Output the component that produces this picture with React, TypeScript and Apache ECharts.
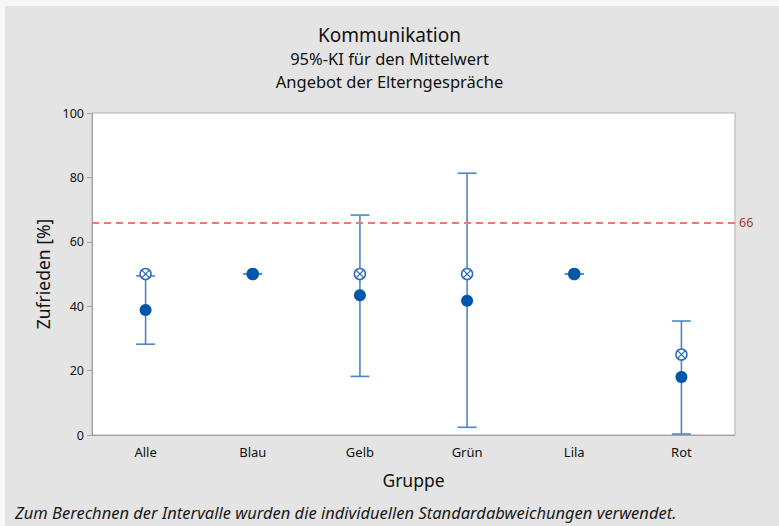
import React, { useEffect, useRef } from "react";
import * as echarts from "echarts";

const categories = ["Alle", "Blau", "Gelb", "Grün", "Lila", "Rot"];
const means = [38.8, 50, 43.4, 41.7, 50, 18];
const medians = [50, 50, 50, 50, 50, 25];
const lowerCI = [28.2, 50, 18.2, 2.4, 50, 0.3];
const upperCI = [49.4, 50, 68.3, 81.3, 50, 35.4];
const referenceValue = 66;
const yTicks = { min: 0, max: 100, interval: 20 };

const FONT = "'Noto Sans', 'Open Sans', sans-serif";
const WHISKER = "#4f86c6";
const MEAN = "#0056a8";
const MEDIAN = "#2f6cb8";

export default function App() {
  const ref = useRef<HTMLDivElement>(null);
  useEffect(() => {
    if (!ref.current) return;
    const chart = echarts.init(ref.current, null, { renderer: "svg" });
    const errData = categories.map((_, i) => [i, lowerCI[i], upperCI[i]]);
    const medData = categories.map((_, i) => [i, medians[i]]);
    const meanData = categories.map((_, i) => [i, means[i]]);
    chart.setOption({
      animation: false,
      backgroundColor: "#f7f7f7",
      graphic: [
        {
          type: "rect",
          z: -10,
          silent: true,
          shape: { x: 5, y: 6, width: 780, height: 530 },
          style: { fill: "#e4e4e4" },
        },
        {
          type: "text",
          left: 15,
          top: 504,
          style: {
            text: "Zum Berechnen der Intervalle wurden die individuellen Standardabweichungen verwendet.",
            font: `italic 16.5px ${FONT}`,
            fill: "#1a1a1a",
          },
        },
      ],
      title: [
        {
          text: "Kommunikation",
          left: "center",
          top: 20,
          textStyle: { fontFamily: FONT, fontSize: 19, fontWeight: "normal", color: "#111" },
        },
        {
          text: "95%-KI für den Mittelwert",
          left: "center",
          top: 45,
          textStyle: { fontFamily: FONT, fontSize: 16.5, fontWeight: "normal", color: "#111" },
        },
        {
          text: "Angebot der Elterngespräche",
          left: "center",
          top: 68,
          textStyle: { fontFamily: FONT, fontSize: 16.5, fontWeight: "normal", color: "#111" },
        },
      ],
      grid: {
        left: 92,
        right: 44,
        top: 113,
        bottom: 91,
        show: true,
        backgroundColor: "#ffffff",
        borderColor: "#b0b0b0",
        borderWidth: 1,
      },
      xAxis: {
        type: "category",
        data: categories,
        name: "Gruppe",
        nameLocation: "middle",
        nameGap: 36,
        nameTextStyle: { fontFamily: FONT, fontSize: 17.5, color: "#111" },
        axisLine: { lineStyle: { color: "#a0a0a0" } },
        axisTick: { alignWithLabel: true, length: 5, lineStyle: { color: "#a0a0a0" } },
        axisLabel: { fontFamily: FONT, fontSize: 13, color: "#111", margin: 10 },
      },
      yAxis: {
        type: "value",
        min: yTicks.min,
        max: yTicks.max,
        interval: yTicks.interval,
        name: "Zufrieden [%]",
        nameLocation: "middle",
        nameGap: 39,
        nameTextStyle: { fontFamily: FONT, fontSize: 17.5, color: "#111" },
        axisLine: { show: true, lineStyle: { color: "#a0a0a0" } },
        axisTick: { show: true, length: 5, lineStyle: { color: "#a0a0a0" } },
        axisLabel: { fontFamily: FONT, fontSize: 12.5, color: "#111", margin: 8 },
        splitLine: { show: false },
      },
      series: [
        {
          type: "custom",
          name: "KI",
          data: errData,
          z: 2,
          renderItem: (params: any, api: any) => {
            const x = api.value(0);
            const lo = api.coord([x, api.value(1)]);
            const hi = api.coord([x, api.value(2)]);
            const hw = 9.5;
            const st = { stroke: WHISKER, lineWidth: 1.6, fill: "none" };
            return {
              type: "group",
              children: [
                { type: "line", shape: { x1: lo[0], y1: lo[1], x2: hi[0], y2: hi[1] }, style: st },
                { type: "line", shape: { x1: lo[0] - hw, y1: lo[1], x2: lo[0] + hw, y2: lo[1] }, style: st },
                { type: "line", shape: { x1: hi[0] - hw, y1: hi[1], x2: hi[0] + hw, y2: hi[1] }, style: st },
              ],
            };
          },
          markLine: {
            silent: true,
            symbol: "none",
            lineStyle: { color: "#e87a72", type: [7, 5], width: 2 },
            label: {
              position: "end",
              formatter: String(referenceValue),
              color: "#a33a36",
              fontFamily: FONT,
              fontSize: 12.5,
              distance: 4,
            },
            data: [{ yAxis: referenceValue }],
          },
        },
        {
          type: "custom",
          name: "Median",
          data: medData,
          z: 3,
          renderItem: (params: any, api: any) => {
            const p = api.coord([api.value(0), api.value(1)]);
            const r = 5.5;
            const d = r * 0.707;
            const st = { stroke: MEDIAN, lineWidth: 1.5, fill: "#ffffff" };
            return {
              type: "group",
              children: [
                { type: "circle", shape: { cx: p[0], cy: p[1], r }, style: st },
                { type: "line", shape: { x1: p[0] - d, y1: p[1] - d, x2: p[0] + d, y2: p[1] + d }, style: { stroke: MEDIAN, lineWidth: 1.3 } },
                { type: "line", shape: { x1: p[0] - d, y1: p[1] + d, x2: p[0] + d, y2: p[1] - d }, style: { stroke: MEDIAN, lineWidth: 1.3 } },
              ],
            };
          },
        },
        {
          type: "scatter",
          name: "Mittelwert",
          data: meanData,
          z: 4,
          symbol: "circle",
          symbolSize: 12,
          itemStyle: { color: MEAN, opacity: 1 },
        },
      ],
    });
    return () => chart.dispose();
  }, []);
  return (
    <div
      ref={ref}
      style={{ position: "fixed", left: 0, top: 0, width: 779, height: 526 }}
    />
  );
}
